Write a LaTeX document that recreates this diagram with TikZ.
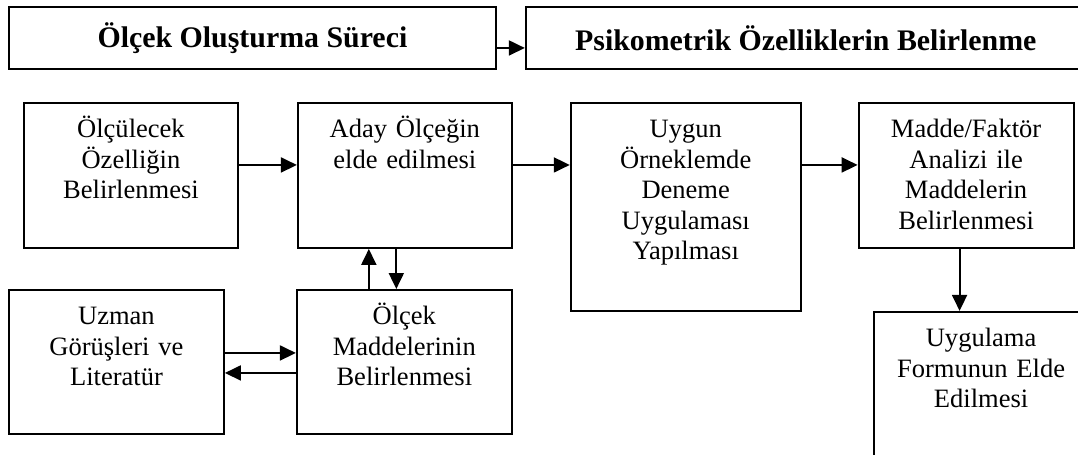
\documentclass[tikz,border=0pt]{standalone}
\usepackage{fontspec}
\setmainfont{Liberation Serif}
\usepackage{tikz}
\usetikzlibrary{arrows.meta, positioning}
\newcommand\govde{\fontsize{15.1}{17.3}\selectfont}
\newcommand\baslikyazi{\fontsize{17}{19}\selectfont\bfseries}

\begin{document}
\begin{tikzpicture}[
  x=0.02cm, y=-0.02cm,
  baslik/.style={
    rectangle, draw, line width=1.1pt, inner sep=0pt,
    minimum height=1.24cm, font=\baslikyazi, anchor=north west,
  },
  kutu/.style={
    rectangle, draw, line width=1.1pt, inner sep=0pt, align=center,
    text width=4.3cm, text height=0.7cm, text depth=2.2cm,
    font=\govde, anchor=north west,
  },
  ok/.style={-{Triangle[length=0.32cm, width=0.3cm]}, line width=1.1pt},
]
  \useasboundingbox (0,0) rectangle (1078,454);
  \clip (0,0) rectangle (1078,454);

  \node[baslik, minimum width=9.74cm] (baslik1) at (8,6) {Ölçek Oluşturma Süreci};
  \node[baslik, minimum width=11.2cm, right=0.56cm of baslik1] (baslik2) {Psikometrik Özelliklerin Belirlenme};

  \node[kutu, text width=4.28cm] (olculecek) at (23,102) {Ölçülecek\\Özelliğin\\Belirlenmesi};
  \node[kutu, text width=4.28cm, right=1.16cm of olculecek] (aday) {Aday Ölçeğin\\elde edilmesi};
  \node[kutu, text width=4.6cm, text depth=3.46cm, right=1.14cm of aday.north east, anchor=north west] (uygun) {Uygun\\Örneklemde\\Deneme\\Uygulaması\\Yapılması};
  \node[kutu, right=1.12cm of uygun.north east, anchor=north west] (madde) {Madde/Faktör\\Analizi ile\\Maddelerin\\Belirlenmesi};
  \node[kutu, text depth=3cm, below=1.24cm of madde.south west, anchor=north west, xshift=0.3cm] (uygulama) {Uygulama\\Formunun Elde\\Edilmesi};

  \node[kutu, text depth=2.18cm] (uzman) at (8,289) {Uzman\\Görüşleri ve\\Literatür};
  \node[kutu, text depth=2.18cm, right=1.42cm of uzman] (olcek) {Ölçek\\Maddelerinin\\Belirlenmesi};

  \draw[ok] ([yshift=-0.2cm]baslik1.east) -- ([yshift=-0.2cm]baslik2.west);
  \draw[ok] ([yshift=0.21cm]olculecek.east) -- ([yshift=0.21cm]aday.west);
  \draw[ok] ([yshift=0.21cm]aday.east) -- ([yshift=0.21cm]aday.east -| uygun.west);
  \draw[ok] ([yshift=0.21cm]madde.west -| uygun.east) -- ([yshift=0.21cm]madde.west);
  \draw[ok] ([xshift=-0.13cm]madde.south) -- ([xshift=-0.13cm]madde.south |- uygulama.north);
  \draw[ok] ([xshift=-0.71cm]olcek.north) -- ([xshift=-0.71cm]olcek.north |- aday.south);
  \draw[ok] ([xshift=-0.17cm]aday.south) -- ([xshift=-0.17cm]aday.south |- olcek.north);
  \draw[ok] ([yshift=0.18cm]uzman.east) -- ([yshift=0.18cm]olcek.west);
  \draw[ok] ([yshift=-0.22cm]olcek.west) -- ([yshift=-0.22cm]uzman.east);
\end{tikzpicture}
\end{document}
